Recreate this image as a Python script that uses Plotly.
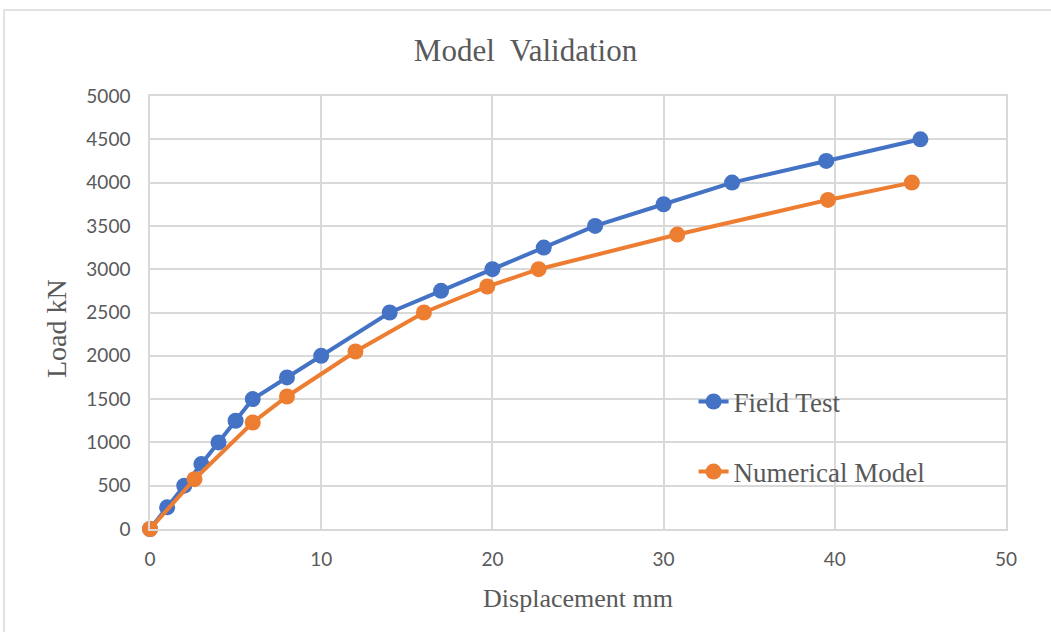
import plotly.graph_objects as go

# Load–displacement data (mm, kN)
field_disp = [0, 1, 2, 3, 4, 5, 6, 8, 10, 14, 17, 20, 23, 26, 30, 34, 39.5, 45]
field_load = [0, 250, 500, 750, 1000, 1250, 1500, 1750, 2000, 2500, 2750, 3000,
              3250, 3500, 3750, 4000, 4250, 4500]

model_disp = [0, 2.6, 6, 8, 12, 16, 19.7, 22.7, 30.8, 39.6, 44.5]
model_load = [0, 575, 1230, 1530, 2050, 2500, 2800, 3000, 3400, 3800, 4000]

x_ticks = [0, 10, 20, 30, 40, 50]
y_ticks = [0, 500, 1000, 1500, 2000, 2500, 3000, 3500, 4000, 4500, 5000]

BLUE = "#4472C4"
ORANGE = "#ED7D31"
GRID = "#D9D9D9"
TEXT = "#595959"
SERIF = "Liberation Serif, Times New Roman, serif"
SANS = "Lato, Open Sans, sans-serif"

fig = go.Figure()
fig.add_trace(go.Scatter(
    x=field_disp, y=field_load, name="Field Test", mode="lines+markers",
    line=dict(color=BLUE, width=4), marker=dict(size=16, color=BLUE),
    legendgroup="a", cliponaxis=False,
))
fig.add_trace(go.Scatter(
    x=model_disp, y=model_load, name="Numerical Model", mode="lines+markers",
    line=dict(color=ORANGE, width=4), marker=dict(size=16, color=ORANGE),
    legendgroup="b", cliponaxis=False,
))

fig.update_layout(
    width=1051, height=632,
    margin=dict(l=150, r=45, t=96, b=103),
    paper_bgcolor="white", plot_bgcolor="white",
    title=dict(text="Model  Validation", x=0.5, xanchor="center",
               y=1 - 50 / 632, yanchor="middle",
               font=dict(family=SERIF, size=31, color=TEXT)),
    showlegend=True,
    legend=dict(x=0.635, y=0.35, xanchor="left", yanchor="top",
                bgcolor="rgba(0,0,0,0)", tracegroupgap=32,
                font=dict(family=SERIF, size=27, color=TEXT)),
    xaxis=dict(range=[0, 50], tickvals=x_ticks, showgrid=True, gridcolor=GRID,
               gridwidth=1.5, zeroline=False, showline=True, linecolor=GRID,
               linewidth=1.5, mirror=True, ticks="", ticklabelstandoff=12,
               tickfont=dict(family=SANS, size=19, color=TEXT),
               title=dict(text="Displacement mm", standoff=20,
                          font=dict(family=SERIF, size=26, color=TEXT))),
    yaxis=dict(range=[0, 5000], tickvals=y_ticks, showgrid=True, gridcolor=GRID,
               gridwidth=1.5, zeroline=False, showline=True, linecolor=GRID,
               linewidth=1.5, mirror=True, ticks="", ticklabelstandoff=14,
               tickfont=dict(family=SANS, size=19, color=TEXT)),
    annotations=[dict(text="Load kN", textangle=-90, showarrow=False,
                      xref="paper", yref="paper",
                      x=(56 - 150) / 856, y=(529 - 329) / 433,
                      xanchor="center", yanchor="middle",
                      font=dict(family=SERIF, size=28, color=TEXT))],
    shapes=[dict(type="rect", xref="paper", yref="paper",
                 x0=-146 / 856, y0=-0.3, x1=1.1, y1=519 / 433,
                 line=dict(color=GRID, width=1.5), layer="below")],
)

fig.write_html("out.html")
